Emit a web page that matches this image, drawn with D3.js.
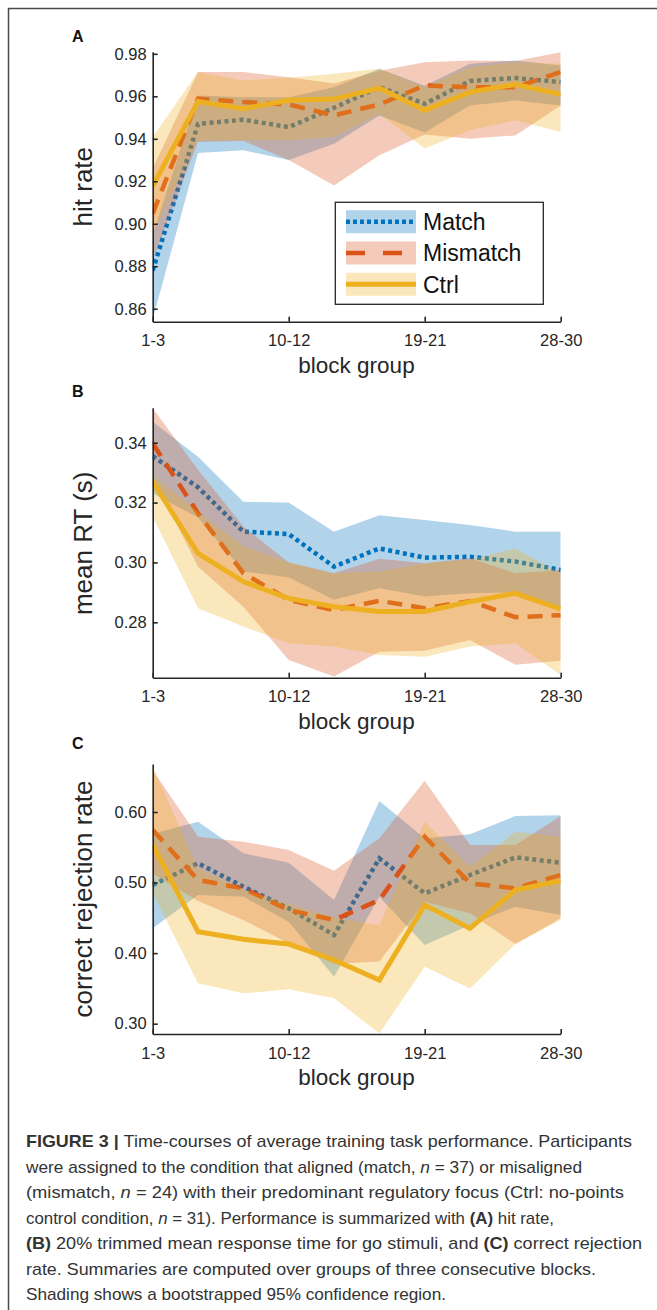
<!DOCTYPE html>
<html>
<head>
<meta charset="utf-8">
<script src="https://cdn.jsdelivr.net/npm/d3@7"></script>
<style>
  body { margin: 0; background: #fff; }
  text { font-family: "Liberation Sans", Arial, sans-serif; }
</style>
</head>
<body>
<svg id="fig" width="657" height="1310"></svg>
<script>
// block groups (3 consecutive blocks each)
const blockGroups = ["1-3","4-6","7-9","10-12","13-15","16-18","19-21","22-24","25-27","28-30"]
const xTickLabels = ["1-3","10-12","19-21","28-30"]

// A: hit rate
const hitMatch      = [0.878,0.947,0.949,0.9455,0.9546,0.9643,0.9565,0.9672,0.9686,0.9667]
const hitMatchLo    = [0.855,0.9333,0.9346,0.930,0.9377,0.951,0.943,0.9557,0.958,0.9557]
const hitMatchHi    = [0.895,0.9604,0.9596,0.9596,0.9643,0.973,0.965,0.9753,0.9769,0.9745]
const hitMismatch   = [0.9048,0.9589,0.9573,0.9562,0.951,0.9562,0.9651,0.9643,0.9643,0.9714]
const hitMismatchLo = [0.883,0.9385,0.939,0.930,0.918,0.9322,0.942,0.940,0.9416,0.9557]
const hitMismatchHi = [0.926,0.9714,0.9714,0.969,0.966,0.972,0.976,0.9769,0.9766,0.9808]
const hitCtrl       = [0.9178,0.9576,0.9542,0.9581,0.9587,0.9639,0.9534,0.962,0.9656,0.9609]
const hitCtrlLo     = [0.8954,0.9393,0.9393,0.9393,0.9408,0.9518,0.9354,0.944,0.9487,0.9432]
const hitCtrlHi     = [0.9408,0.9714,0.9675,0.9687,0.9706,0.973,0.9643,0.9737,0.976,0.9753]
const hitTicks = [0.86,0.88,0.90,0.92,0.94,0.96,0.98]

// B: mean RT (s)
const rtMatch      = [0.3355,0.3251,0.3103,0.3095,0.2986,0.3047,0.3016,0.3019,0.3003,0.2975]
const rtMatchLo    = [0.323,0.315,0.297,0.295,0.2875,0.2914,0.2886,0.2897,0.290,0.2847]
const rtMatchHi    = [0.347,0.3353,0.3203,0.320,0.3103,0.3158,0.3142,0.3125,0.3103,0.3103]
const rtMismatch   = [0.3398,0.3164,0.2964,0.2875,0.2841,0.2872,0.2847,0.2871,0.2817,0.2824]
const rtMismatchLo = [0.3286,0.2986,0.2852,0.2674,0.2619,0.2702,0.2705,0.2741,0.2658,0.2672]
const rtMismatchHi = [0.3515,0.331,0.312,0.300,0.2964,0.3012,0.2997,0.3014,0.2964,0.2975]
const rtCtrl       = [0.327,0.303,0.2936,0.288,0.2852,0.2836,0.2836,0.2869,0.2897,0.2844]
const rtCtrlLo     = [0.3153,0.2847,0.2786,0.273,0.2719,0.2691,0.2685,0.2719,0.273,0.2624]
const rtCtrlHi     = [0.329,0.317,0.3053,0.300,0.2964,0.297,0.2997,0.301,0.3047,0.2964]
const rtTicks = [0.28,0.30,0.32,0.34]

// C: correct rejection rate
const crMatch      = [0.4966,0.5273,0.4942,0.4635,0.4257,0.5343,0.4847,0.5107,0.5358,0.5282]
const crMatchLo    = [0.4351,0.4824,0.48,0.4446,0.3667,0.48,0.4115,0.4399,0.4658,0.454]
const crMatchHi    = [0.569,0.5863,0.5414,0.528,0.4753,0.6156,0.5627,0.5684,0.5943,0.5953]
const crMismatch   = [0.5745,0.5036,0.4918,0.4611,0.447,0.4753,0.565,0.4989,0.4918,0.5107]
const crMismatchLo = [0.513,0.4739,0.447,0.4139,0.385,0.388,0.4729,0.4565,0.4129,0.4493]
const crMismatchHi = [0.6595,0.565,0.558,0.5461,0.5169,0.5627,0.6444,0.5532,0.5532,0.5943]
const crCtrl       = [0.5532,0.4304,0.4196,0.4129,0.3903,0.3619,0.4682,0.4351,0.4895,0.5027]
const crCtrlLo     = [0.4847,0.3572,0.343,0.3487,0.336,0.2863,0.3808,0.35,0.4129,0.447]
const crCtrlHi     = [0.6642,0.52,0.49,0.47,0.45,0.44,0.5863,0.522,0.572,0.565]
const crTicks = [0.30,0.40,0.50,0.60]

const seriesNames = ["Match","Mismatch","Ctrl"]
const colors = {Match:"#0072BD", Mismatch:"#D95319", Ctrl:"#EDB120"}
const dashes = {Match:"4,3.5", Mismatch:"15,9", Ctrl:null}
const legendDashes = {Match:"4,3", Mismatch:"19,18", Ctrl:null}

const ink = "#262626"
const svg = d3.select("#fig")
svg.append("rect").attr("width",657).attr("height",1310).attr("fill","#fff")

// page frame (top and left rule)
svg.append("line").attr("x1",8).attr("y1",8.5).attr("x2",657).attr("y2",8.5)
  .attr("stroke","#4a4a4a").attr("stroke-width",1.5)
svg.append("line").attr("x1",8.5).attr("y1",8).attr("x2",8.5).attr("y2",1310)
  .attr("stroke","#4a4a4a").attr("stroke-width",1.5)

const left = 152.7, right = 560.7
const x = d3.scalePoint().domain(blockGroups).range([left, right])

const panels = [
  {letter:"A", letterY:42, top:51.7, bottom:321.7, domain:[0.8539,0.981], ticks:hitTicks, label:"hit rate", labelY:186.7,
   data:{Match:[hitMatch,hitMatchLo,hitMatchHi], Mismatch:[hitMismatch,hitMismatchLo,hitMismatchHi], Ctrl:[hitCtrl,hitCtrlLo,hitCtrlHi]}, legend:true},
  {letter:"B", letterY:397, top:407.7, bottom:677.7, domain:[0.2615,0.3517], ticks:rtTicks, label:"mean RT (s)", labelY:543.3,
   data:{Match:[rtMatch,rtMatchLo,rtMatchHi], Mismatch:[rtMismatch,rtMismatchLo,rtMismatchHi], Ctrl:[rtCtrl,rtCtrlLo,rtCtrlHi]}},
  {letter:"C", letterY:749, top:764, bottom:1034, domain:[0.2854,0.668], ticks:crTicks, label:"correct rejection rate", labelY:899,
   data:{Match:[crMatch,crMatchLo,crMatchHi], Mismatch:[crMismatch,crMismatchLo,crMismatchHi], Ctrl:[crCtrl,crCtrlLo,crCtrlHi]}}
]

panels.forEach(function(p, pi){
  const y = d3.scaleLinear().domain(p.domain).range([p.bottom, p.top])
  const g = svg.append("g")

  const clipId = "clip" + pi
  svg.append("clipPath").attr("id", clipId).append("rect")
    .attr("x", left).attr("y", p.top).attr("width", right-left).attr("height", p.bottom-p.top)

  const plot = g.append("g").attr("clip-path", "url(#" + clipId + ")")

  seriesNames.forEach(function(name){
    const [mean, lo, hi] = p.data[name]
    const rows = blockGroups.map(function(b,i){ return {b:b, m:mean[i], lo:lo[i], hi:hi[i]} })
    const line = d3.line().x(d => x(d.b)).y(d => y(d.m))
    const area = d3.area().x(d => x(d.b)).y0(d => y(d.lo)).y1(d => y(d.hi))

    plot.append("path").datum(rows).attr("d", line)
      .attr("fill","none").attr("stroke", colors[name])
      .attr("stroke-width", name === "Ctrl" ? 5 : 4.5)
      .attr("stroke-dasharray", dashes[name])
    plot.append("path").datum(rows).attr("d", area)
      .attr("fill", colors[name]).attr("fill-opacity", 0.3).attr("stroke","none")
  })

  // axes, MATLAB style: ticks pointing in, no box
  const yAxis = g.append("g").attr("transform","translate(" + left + ",0)")
    .call(d3.axisLeft(y).tickValues(p.ticks).tickFormat(d3.format(".2f")).tickSizeInner(-5).tickSizeOuter(0).tickPadding(6))
  const xAxis = g.append("g").attr("transform","translate(0," + p.bottom + ")")
    .call(d3.axisBottom(x).tickValues(xTickLabels).tickSizeInner(-5).tickSizeOuter(0).tickPadding(13))

  ;[yAxis, xAxis].forEach(function(a){
    a.select(".domain").attr("stroke", ink).attr("stroke-width", 1.6)
    a.selectAll(".tick line").attr("stroke", ink).attr("stroke-width", 1.6)
    a.selectAll(".tick text").attr("fill", ink).style("font-size","16.5px")
      .style("font-family", '"Liberation Sans", Arial, sans-serif')
  })

  g.append("text").attr("x", 356.5).attr("y", p.bottom + 51)
    .attr("text-anchor","middle").attr("fill", ink).style("font-size","22.5px")
    .text("block group")

  g.append("text").attr("transform","translate(92," + p.labelY + ") rotate(-90)")
    .attr("text-anchor","middle").attr("fill", ink).style("font-size","26px")
    .text(p.label)

  svg.append("text").attr("x", 72).attr("y", p.letterY)
    .attr("fill","#111").style("font-size","16px").style("font-weight","bold")
    .text(p.letter)

  if (p.legend) {
    const lg = g.append("g")
    lg.append("rect").attr("x",335.3).attr("y",202.3).attr("width",208).attr("height",102)
      .attr("fill","#fff").attr("stroke", ink).attr("stroke-width",1.3)
    seriesNames.forEach(function(name, i){
      const cy = 221.7 + i*31.3
      lg.append("rect").attr("x",346).attr("y",cy-11.5).attr("width",70).attr("height",23)
        .attr("fill", colors[name]).attr("fill-opacity",0.3)
      lg.append("line").attr("x1",346).attr("x2",416).attr("y1",cy).attr("y2",cy)
        .attr("stroke", colors[name]).attr("stroke-width", name === "Ctrl" ? 5 : 4.5)
        .attr("stroke-dasharray", legendDashes[name])
      lg.append("text").attr("x",423).attr("y",cy+8.3).attr("fill","#111")
        .style("font-size","23px").text(name)
    })
  }
})

// caption
const captionLines = [
  [{t:"FIGURE 3 | ", b:true},{t:"Time-courses of average training task performance. Participants"}],
  [{t:"were assigned to the condition that aligned (match, "},{t:"n", i:true},{t:" = 37) or misaligned"}],
  [{t:"(mismatch, "},{t:"n", i:true},{t:" = 24) with their predominant regulatory focus (Ctrl: no-points"}],
  [{t:"control condition, "},{t:"n", i:true},{t:" = 31). Performance is summarized with "},{t:"(A)", b:true},{t:" hit rate,"}],
  [{t:"(B)", b:true},{t:" 20% trimmed mean response time for go stimuli, and "},{t:"(C)", b:true},{t:" correct rejection"}],
  [{t:"rate. Summaries are computed over groups of three consecutive blocks."}],
  [{t:"Shading shows a bootstrapped 95% confidence region."}]
]
const captionWidths = [606, 556, 598, 528, 616, 570, 420]
const cap = svg.append("g")
captionLines.forEach(function(parts, li){
  const t = cap.append("text").attr("x", 26).attr("y", 1147 + li*25.5)
    .attr("fill","#333").style("font-size","17px")
    .attr("textLength", captionWidths[li]).attr("lengthAdjust","spacingAndGlyphs")
  parts.forEach(function(p){
    t.append("tspan").text(p.t)
      .style("font-weight", p.b ? "bold" : "normal")
      .style("font-style", p.i ? "italic" : "normal")
  })
})
</script>
</body>
</html>
